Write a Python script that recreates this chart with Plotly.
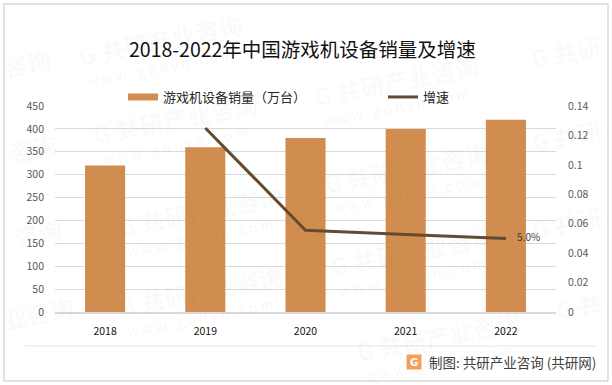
import plotly.graph_objects as go

FONT = "Noto Sans CJK SC"
years = ["2018", "2019", "2020", "2021", "2022"]
sales = [320, 360, 380, 400, 420]
growth = [None, 0.125, 0.0556, 0.0526, 0.05]
growth_labels = ["", "", "", "", "\u00a0\u00a0\u00a0\u00a0\u00a05.0%"]
left_ticks = [0, 50, 100, 150, 200, 250, 300, 350, 400, 450]
right_ticks = [0, 0.02, 0.04, 0.06, 0.08, 0.1, 0.12, 0.14]
right_tick_labels = ["0", "0.02", "0.04", "0.06", "0.08", "0.1", "0.12", "0.14"]
title = "2018-2022年中国游戏机设备销量及增速"
source = "制图: 共研产业咨询 (共研网)"
bar_name = "游戏机设备销量（万台）"
line_name = "增速"
wm_cn = "G 共研产业咨询"
wm_en = "w w w . g o n y n . c o m"
# centre x, centre y of full watermarks
wm_spots = [(160, 40), (175, 118), (200, 210), (200, 290),
            (396, 80), (406, 167), (412, 250), (438, 335)]
# partial watermarks at the chart edges: text, centre x, centre y
wm_edge = [("咨询", 27, 62), ("咨询", 33, 147), ("咨询", 38, 232), ("业咨询", 38, 312),
           ("G 共研", 566, 52), ("G 共研", 566, 135), ("G 共研", 566, 222), ("G 共", 578, 305)]

PL, PR, PT, PB = 55, 556, 106, 312
def px(x): return (x - PL) / (PR - PL)
def py(y): return (PB - y) / (PB - PT)

fig = go.Figure()
fig.add_trace(go.Bar(x=years, y=sales, name=bar_name, marker_color="#D18C4F",
                     marker_line_width=0, width=0.4, yaxis="y", showlegend=False))
fig.add_trace(go.Scatter(x=[None], y=[None], name=bar_name, mode="lines", yaxis="y",
                         line=dict(color="#D18C4F", width=7), legend="legend"))
fig.add_trace(go.Scatter(x=years, y=growth, name=line_name, mode="lines+text", yaxis="y2",
                         line=dict(color="#654A32", width=3), text=growth_labels,
                         textposition="middle right", legend="legend2",
                         textfont=dict(family=FONT, size=10, color="#404040")))

annos = []
def note(x, y, text, size, color, angle=0, xanchor="center", **kw):
    annos.append(dict(x=px(x), y=py(y), xref="paper", yref="paper", text=text, showarrow=False,
                      textangle=angle, xanchor=xanchor, yanchor="middle",
                      font=dict(family=kw.pop("family", FONT), size=size, color=color), **kw))
WM1, WM2 = "rgba(110,110,110,0.05)", "rgba(110,110,110,0.07)"
for (x, y) in wm_spots:
    note(x, y, "<b>" + wm_cn + "</b>", 24, WM1, -11)
    note(x, y + 27, wm_en, 14, WM2, -11)
for (t, x, y) in wm_edge:
    note(x, y, "<b>" + t + "</b>", 24, WM1, -11)
note(302, 49, title, 19.5, "#111111")
note(598, 362, source, 13.5, "#404040", xanchor="right")
note(414, 362, "<b>G</b>", 10, "white", family="DejaVu Sans", bgcolor="#F5A05A", width=14, height=14, borderpad=0)

shapes = [
    dict(type="rect", xref="paper", yref="paper", x0=px(4), x1=px(608), y0=py(381), y1=py(4),
         line=dict(color="#D9D9D9", width=1.5), layer="below"),
    dict(type="line", xref="paper", yref="paper", x0=px(25), x1=px(597), y0=py(346), y1=py(346),
         line=dict(color="#EDEDED", width=1.5), layer="below"),
]

legend_style = dict(orientation="h", y=py(82), xanchor="left", yanchor="top", bgcolor="rgba(0,0,0,0)",
                    font=dict(family=FONT, size=13, color="#262626"), itemwidth=30)

fig.update_layout(
    width=612, height=385, autosize=False,
    margin=dict(l=PL, r=612 - PR, t=PT, b=385 - PB),
    paper_bgcolor="white", plot_bgcolor="rgba(0,0,0,0)",
    font=dict(family=FONT),
    showlegend=True,
    legend=dict(x=px(123), **legend_style),
    legend2=dict(x=px(383), **legend_style),
    xaxis=dict(type="category", showgrid=False, showline=True, linecolor="#D9D9D9", linewidth=1.5, ticks="",
               tickfont=dict(family=FONT, size=10.5, color="#111111"), ticklabelstandoff=9, range=[-0.5, 4.5]),
    yaxis=dict(range=[0, 450], tickvals=left_ticks, showgrid=True, gridcolor="#D9D9D9", gridwidth=1.2,
               zeroline=False, showline=False, ticklabelstandoff=10,
               tickfont=dict(family=FONT, size=10.5, color="#595959")),
    yaxis2=dict(range=[0, 0.14], tickvals=right_ticks, ticktext=right_tick_labels, overlaying="y", side="right",
                showgrid=False, zeroline=False, showline=False, ticklabelstandoff=11,
                tickfont=dict(family=FONT, size=10.5, color="#595959")),
    annotations=annos, shapes=shapes,
)
fig.write_html("out.html", post_script="document.body.style.margin='0';",
               config={"displayModeBar": False, "responsive": False})
